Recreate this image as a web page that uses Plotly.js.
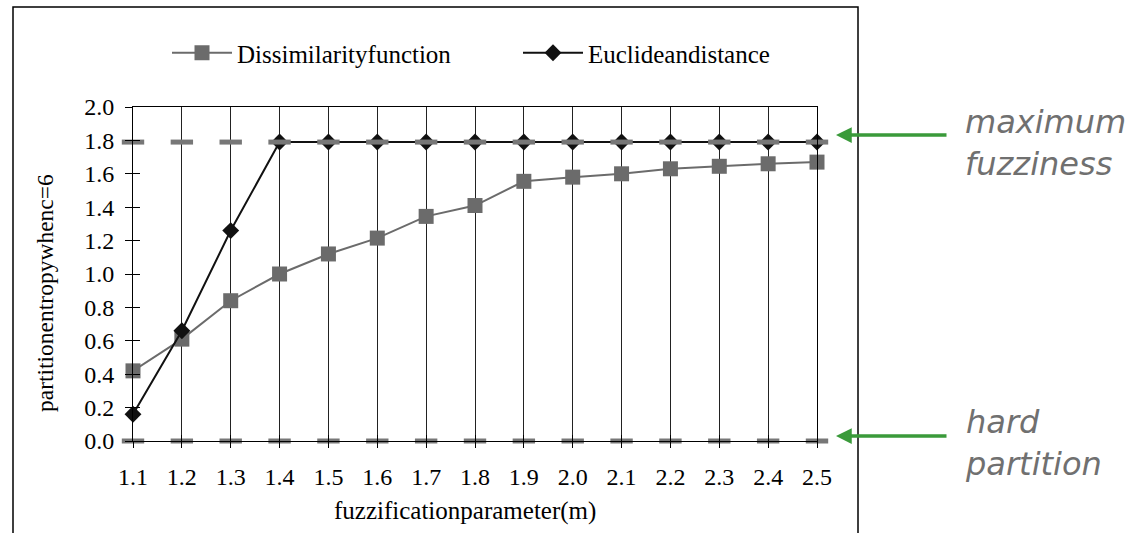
<!DOCTYPE html>
<html>
<head>
<meta charset="utf-8">
<script src="https://cdn.plot.ly/plotly-3.0.1.min.js"></script>
<style>html,body{margin:0;padding:0;background:#fff;}#chart{width:1129px;height:533px;}</style>
</head>
<body>
<div id="chart"></div>
<script>
var mValues = [1.1, 1.2, 1.3, 1.4, 1.5, 1.6, 1.7, 1.8, 1.9, 2.0, 2.1, 2.2, 2.3, 2.4, 2.5];
var dissimilarity = [0.42, 0.61, 0.84, 1.00, 1.12, 1.215, 1.345, 1.41, 1.555, 1.58, 1.60, 1.63, 1.645, 1.66, 1.67];
var euclidean = [0.16, 0.66, 1.26, 1.79, 1.79, 1.79, 1.79, 1.79, 1.79, 1.79, 1.79, 1.79, 1.79, 1.79, 1.79];
var maxFuzziness = [1.79, 1.79, 1.79, 1.79, 1.79, 1.79, 1.79, 1.79, 1.79, 1.79, 1.79, 1.79, 1.79, 1.79, 1.79];
var hardPartition = [0, 0, 0, 0, 0, 0, 0, 0, 0, 0, 0, 0, 0, 0, 0];
var seriesNames = ['Dissimilarityfunction', 'Euclideandistance'];
var xTitle = 'fuzzificationparameter(m)';
var yTitle = 'partitionentropywhenc=6';

var serif = 'Liberation Serif, Times New Roman, serif';
var sans = 'DejaVu Sans, Verdana, sans-serif';

var traces = [
  {x: mValues, y: dissimilarity, name: seriesNames[0], legend: 'legend', type: 'scatter', mode: 'lines+markers',
   line: {color: '#6b6b6b', width: 2}, marker: {symbol: 'square', size: 15, color: '#6b6b6b'}, cliponaxis: false},
  {x: mValues, y: euclidean, name: seriesNames[1], legend: 'legend2', type: 'scatter', mode: 'lines+markers',
   line: {color: '#111', width: 2}, marker: {symbol: 'diamond', size: 13, color: '#111'}, cliponaxis: false},
  {x: mValues, y: maxFuzziness, type: 'scatter', mode: 'markers', showlegend: false, hoverinfo: 'skip',
   marker: {symbol: 'line-ew', size: 16, color: '#777', line: {color: '#777', width: 5}}, cliponaxis: false},
  {x: mValues, y: hardPartition, type: 'scatter', mode: 'markers', showlegend: false, hoverinfo: 'skip',
   marker: {symbol: 'line-ew', size: 16, color: '#777', line: {color: '#777', width: 5}}, cliponaxis: false},
  {x: [], y: [], xaxis: 'x2', yaxis: 'y2', type: 'scatter', mode: 'markers', showlegend: false, hoverinfo: 'skip'}
];

var L = 133, R = 817, T = 107, B = 441;
function px2x(p) { return (p - L) / (R - L); }
function px2y(p) { return (B - p) / (B - T); }

var legendBase = {orientation: 'h', xanchor: 'left', yanchor: 'middle', y: px2y(53),
  font: {family: serif, size: 25, color: '#000'}, bgcolor: 'rgba(0,0,0,0)', itemwidth: 60};

var layout = {
  width: 1129, height: 533,
  margin: {l: L, r: 1129 - R, t: T, b: 533 - B, pad: 0, autoexpand: false},
  paper_bgcolor: '#fff', plot_bgcolor: '#fff',
  font: {family: serif, color: '#000', size: 24},
  showlegend: true,
  legend: Object.assign({}, legendBase, {x: px2x(167)}),
  legend2: Object.assign({}, legendBase, {x: px2x(518)}),
  xaxis: {range: [1.1, 2.5], tickmode: 'linear', tick0: 1.1, dtick: 0.1, tickformat: '.1f',
          showgrid: true, gridcolor: '#222', gridwidth: 1, zeroline: false,
          showline: true, linecolor: '#000', linewidth: 1, mirror: true,
          ticks: 'outside', ticklen: 6, tickcolor: '#000', ticklabelstandoff: 8,
          tickfont: {family: serif, size: 24}, automargin: false},
  yaxis: {range: [0, 2.0], tickmode: 'linear', tick0: 0, dtick: 0.2, tickformat: '.1f',
          showgrid: false, zeroline: false,
          showline: true, linecolor: '#000', linewidth: 1, mirror: true,
          ticks: 'outside', ticklen: 7, tickcolor: '#000', ticklabelstandoff: 6,
          tickfont: {family: serif, size: 24}, automargin: false},
  xaxis2: {overlaying: 'x', anchor: 'y2', range: [1.1, 2.5], tickmode: 'linear', tick0: 1.1, dtick: 0.1,
           showgrid: false, zeroline: false, showline: false, ticks: 'inside', ticklen: 6, tickcolor: '#000',
           showticklabels: false, automargin: false},
  yaxis2: {overlaying: 'y', anchor: 'x2', range: [0, 2.0], tickmode: 'linear', tick0: 0, dtick: 0.2,
           showgrid: false, zeroline: false, showline: false, ticks: 'inside', ticklen: 7, tickcolor: '#000',
           showticklabels: false, automargin: false},
  shapes: [
    {type: 'rect', xref: 'paper', yref: 'paper', x0: px2x(13), x1: px2x(858), y0: px2y(560), y1: px2y(7),
     line: {color: '#000', width: 1.5}, fillcolor: 'rgba(0,0,0,0)', layer: 'below'}
  ],
  annotations: [
    {xref: 'paper', yref: 'paper', x: px2x(465), y: px2y(511), xanchor: 'center', yanchor: 'middle',
     showarrow: false, text: xTitle, font: {family: serif, size: 25, color: '#000'}},
    {xref: 'paper', yref: 'paper', x: px2x(45), y: px2y(293), xanchor: 'center', yanchor: 'middle',
     showarrow: false, textangle: -90, text: yTitle, font: {family: serif, size: 23.5, color: '#000'}},
    {xref: 'paper', yref: 'paper', x: px2x(836), y: px2y(135), ax: 112, ay: 0, axref: 'pixel', ayref: 'pixel',
     showarrow: true, arrowhead: 2, arrowsize: 0.9, arrowwidth: 3.5, arrowcolor: '#3a9a3a', text: ''},
    {xref: 'paper', yref: 'paper', x: px2x(836), y: px2y(436), ax: 112, ay: 0, axref: 'pixel', ayref: 'pixel',
     showarrow: true, arrowhead: 2, arrowsize: 0.9, arrowwidth: 3.5, arrowcolor: '#3a9a3a', text: ''},
    {xref: 'paper', yref: 'paper', x: px2x(963), y: px2y(143), xanchor: 'left', yanchor: 'middle', align: 'left',
     showarrow: false, text: '<i>maximum<br>fuzziness</i>',
     font: {family: sans, size: 32, color: '#707070'}},
    {xref: 'paper', yref: 'paper', x: px2x(963), y: px2y(443), xanchor: 'left', yanchor: 'middle', align: 'left',
     showarrow: false, text: '<i>hard<br>partition</i>',
     font: {family: sans, size: 32, color: '#707070'}}
  ]
};

Plotly.newPlot('chart', traces, layout, {displayModeBar: false, staticPlot: true});
</script>
</body>
</html>
